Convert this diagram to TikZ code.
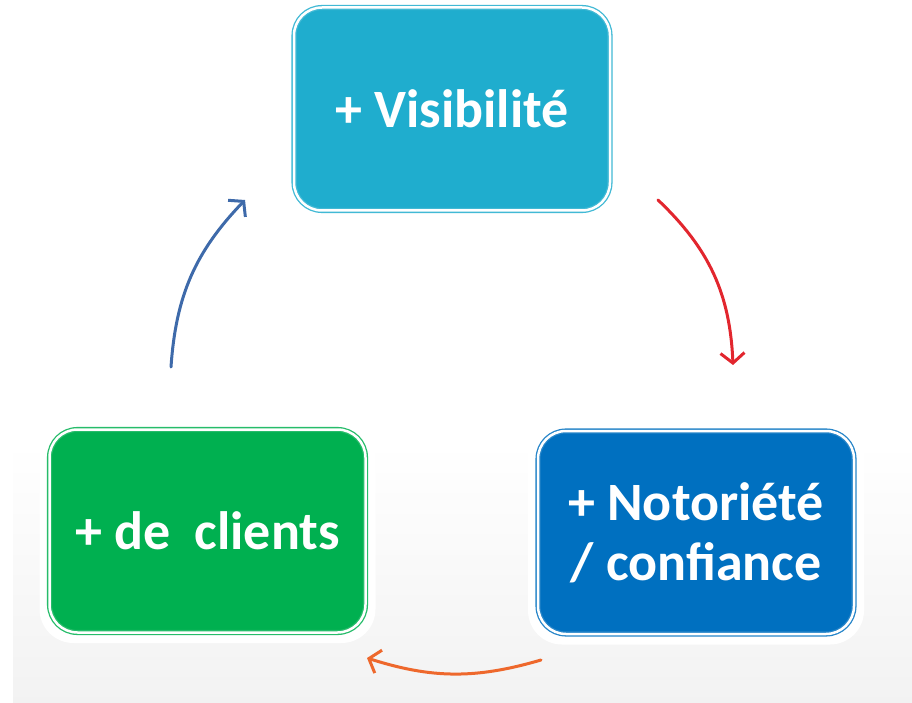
\documentclass[tikz,border=0pt]{standalone}
\usepackage{fontspec}
\setmainfont{Carlito}
\usetikzlibrary{arrows.meta,calc}
\definecolor{visib}{RGB}{31,173,206}
\definecolor{notor}{RGB}{0,112,192}
\definecolor{clien}{RGB}{0,176,80}
\definecolor{redarr}{RGB}{226,38,46}
\definecolor{bluearr}{RGB}{62,106,170}
\definecolor{orgarr}{RGB}{238,104,44}
\begin{document}
\begin{tikzpicture}[x=1pt,y=1pt,line join=round,line cap=round,
	box/.style={rounded corners=28pt,minimum width=316pt,minimum height=203pt,
		draw=#1!85,fill=#1,line width=1.3pt,double=white,double distance=2.5pt,
		text=white,font=\fontsize{54}{60}\selectfont\bfseries,align=center},
	cyc/.style={line width=3pt,draw=#1,-{Straight Barb[length=10pt,width=24pt,line width=3pt]}}]
	\useasboundingbox (0,0) rectangle (912,702);
	\shade[top color=white,bottom color=black!5] (13,0) rectangle (912,260);
	\path
	(452,593) coordinate (V)
	(696,169.5) coordinate (N)
	(207.5,171) coordinate (C)
	;
	% halos
	\foreach \c in {V,N,C}\fill[white,rounded corners=34pt] ($(\c)+(-168,-112)$) rectangle ($(\c)+(168,112)$);
	\node[box=visib] (vis) at (V) {+ Visibilité};
	\node[box=notor] (not) at (N) {+ Notoriété\\/ confiance};
	\node[box=clien] (cli) at (C) {+ de\ \ clients};
	\path
	(658,502) coordinate (r1) (733,337) coordinate (r2)
	(541,42) coordinate (o1) (367,44) coordinate (o2)
	(171,335) coordinate (b1) (245,502) coordinate (b2)
	;
	\draw[cyc=redarr] (r1) to[bend left=22] (r2);
	\draw[cyc=orgarr] (o1) to[bend left=17] (o2);
	\draw[cyc=bluearr] (b1) to[bend left=20] (b2);
\end{tikzpicture}
\end{document}
